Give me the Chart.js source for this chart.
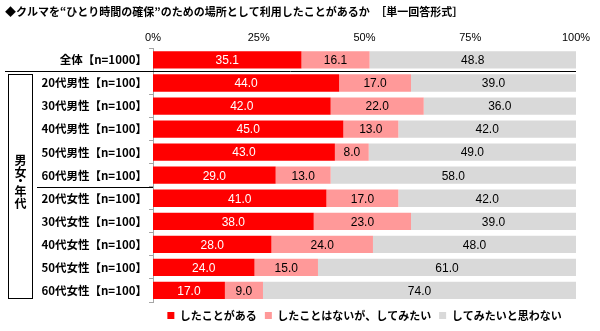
<!DOCTYPE html>
<html>
<head>
<meta charset="utf-8">
<script src="https://cdn.jsdelivr.net/npm/chart.js@4"></script>
<style>
  body { margin: 0; background: #fff; }
</style>
</head>
<body>
<canvas id="chart" width="600" height="331"></canvas>
<script>
// 回答データ (%)
const categories = [
  "全体【n=1000】",
  "20代男性【n=100】",
  "30代男性【n=100】",
  "40代男性【n=100】",
  "50代男性【n=100】",
  "60代男性【n=100】",
  "20代女性【n=100】",
  "30代女性【n=100】",
  "40代女性【n=100】",
  "50代女性【n=100】",
  "60代女性【n=100】",
];
const didUse = [35.1, 44.0, 42.0, 45.0, 43.0, 29.0, 41.0, 38.0, 28.0, 24.0, 17.0];
const wantTo = [16.1, 17.0, 22.0, 13.0, 8.0, 13.0, 17.0, 23.0, 24.0, 15.0, 9.0];
const dontWant = [48.8, 39.0, 36.0, 42.0, 49.0, 58.0, 42.0, 39.0, 48.0, 61.0, 74.0];
const seriesNames = ["したことがある", "したことはないが、してみたい", "してみたいと思わない"];
const xTicks = [0, 25, 50, 75, 100];

const titleText = "◆クルマを“ひとり時間の確保”のための場所として利用したことがあるか　［単一回答形式］";
const groupLabel = "男女・年代";
const jpFont = "'Noto Sans CJK JP', sans-serif";
const numFont = "'Liberation Sans', Arial, sans-serif";

// value labels, title, separators and group box
const decorations = {
  id: "decorations",
  afterDatasetsDraw(chart) {
    const ctx = chart.ctx;
    ctx.save();
    ctx.font = "12px " + numFont;
    ctx.textAlign = "center";
    ctx.textBaseline = "middle";
    chart.data.datasets.forEach((ds, i) => {
      const meta = chart.getDatasetMeta(i);
      meta.data.forEach((bar, j) => {
        ctx.fillStyle = i === 0 ? "#fff" : "#000";
        ctx.fillText(ds.data[j].toFixed(1), (bar.x + bar.base) / 2, bar.y + 1);
      });
    });
    ctx.restore();
  },
  afterDraw(chart) {
    const ctx = chart.ctx;
    const y = chart.scales.y;
    const area = chart.chartArea;
    const edge = (i) => (y.getPixelForValue(i) + y.getPixelForValue(i + 1)) / 2;
    ctx.save();

    // title
    ctx.fillStyle = "#000";
    ctx.font = "bold 11px " + jpFont;
    ctx.textAlign = "left";
    ctx.textBaseline = "middle";
    ctx.fillText(titleText, 5, 12);

    // line under 全体
    ctx.strokeStyle = "#000";
    ctx.lineWidth = 1;
    ctx.beginPath();
    ctx.moveTo(5, Math.round(edge(0)) + 0.5);
    ctx.lineTo(area.right, Math.round(edge(0)) + 0.5);
    ctx.stroke();

    // line between men and women
    ctx.beginPath();
    ctx.moveTo(37, Math.round(edge(5)) + 0.5);
    ctx.lineTo(area.left, Math.round(edge(5)) + 0.5);
    ctx.stroke();

    // group box
    const top = Math.round(edge(0)) + 3;
    const bottom = Math.round(area.bottom) - 4;
    ctx.strokeRect(8.5, top + 0.5, 24, bottom - top);

    // vertical group label, the middle dot takes less room
    ctx.font = "bold 12px " + jpFont;
    ctx.textAlign = "center";
    const chars = Array.from(groupLabel);
    const sizes = chars.map((c) => (c === "・" ? 8 : 11.5));
    const total = sizes.reduce((a, b) => a + b, 0);
    let cy = edge(5) - 5 - total / 2;
    chars.forEach((c, k) => {
      ctx.fillText(c, 20.5, cy + sizes[k] / 2);
      cy += sizes[k];
    });
    ctx.restore();
  },
};

new Chart(document.getElementById("chart"), {
  type: "bar",
  data: {
    labels: categories,
    datasets: [
      { label: seriesNames[0], data: didUse, backgroundColor: "#ff0000" },
      { label: seriesNames[1], data: wantTo, backgroundColor: "#ff9999" },
      { label: seriesNames[2], data: dontWant, backgroundColor: "#d9d9d9" },
    ],
  },
  options: {
    indexAxis: "y",
    responsive: false,
    animation: false,
    datasets: {
      bar: { categoryPercentage: 1, barPercentage: 0.75 },
    },
    layout: { padding: { top: 22, right: 24, left: 0, bottom: 0 } },
    scales: {
      x: {
        position: "top",
        stacked: true,
        min: 0,
        max: 100,
        afterBuildTicks(scale) {
          scale.ticks = xTicks.map((v) => ({ value: v }));
        },
        afterFit(scale) {
          scale.height = 26.4;
        },
        ticks: {
          padding: 4,
          color: "#000",
          font: { size: 11, family: numFont },
          callback: (v) => v + "%",
        },
        grid: { display: false, drawTicks: false, tickLength: 0 },
        border: { display: false },
      },
      y: {
        stacked: true,
        afterFit(scale) {
          scale.width = 153;
        },
        ticks: {
          padding: 2,
          color: "#000",
          font: { size: 11.5, weight: "bold", family: jpFont },
        },
        grid: {
          offset: true,
          drawOnChartArea: false,
          tickLength: 4,
          color: "#a6a6a6",
        },
        border: { color: "#a6a6a6" },
      },
    },
    plugins: {
      legend: {
        position: "bottom",
        fullSize: false,
        labels: {
          boxWidth: 7,
          boxHeight: 7,
          padding: 8,
          color: "#000",
          font: { size: 11, weight: "bold", family: jpFont },
        },
      },
      tooltip: { enabled: false },
    },
  },
  plugins: [decorations],
});
</script>
</body>
</html>
